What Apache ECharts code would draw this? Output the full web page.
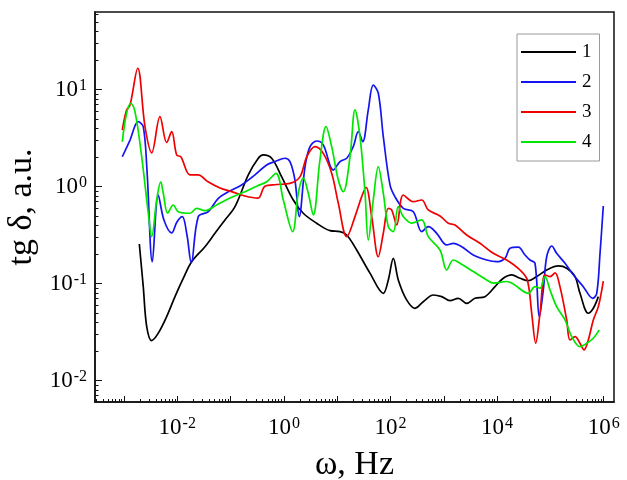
<!DOCTYPE html>
<html>
<head>
<meta charset="utf-8">
<script src="https://cdn.jsdelivr.net/npm/echarts@6/dist/echarts.min.js"></script>
<style>
  html, body { margin: 0; padding: 0; background: #fff; }
  #chart-container { width: 627px; height: 480px; }
</style>
</head>
<body>
<div id="chart-container"></div>
<script>
// curve 1 (black)
const freq1 = [0.00194, 0.0023, 0.00267, 0.00331, 0.0044, 0.00632, 0.00906, 0.013, 0.0186, 0.0331, 0.0509, 0.0785, 0.121, 0.215, 0.331, 0.41, 0.59, 0.91, 1.5, 2.31, 4.12, 7.33, 11.3, 15.1, 23.2, 41.2, 73.3, 91, 113, 140, 201, 288, 412, 635, 914, 1306, 1870, 2690, 3850, 5930, 9140, 13070, 18800, 26900, 38500, 55300, 85200, 141000, 202000, 290000, 359000, 514000, 638000, 793000];
const tan1 = [0.256, 0.0929, 0.036, 0.0258, 0.0308, 0.0456, 0.0733, 0.1135, 0.168, 0.24, 0.33, 0.453, 0.621, 1.32, 1.96, 2.12, 1.96, 1.26, 0.727, 0.531, 0.419, 0.351, 0.343, 0.317, 0.222, 0.128, 0.0794, 0.109, 0.182, 0.109, 0.0678, 0.0556, 0.065, 0.0762, 0.0733, 0.0667, 0.0705, 0.0626, 0.0705, 0.0733, 0.0929, 0.1135, 0.123, 0.1135, 0.107, 0.118, 0.138, 0.152, 0.144, 0.118, 0.0794, 0.0494, 0.0556, 0.0733];

// curve 2 (blue)
const freq2 = [0.00093, 0.0013, 0.00185, 0.0023, 0.0027, 0.0034, 0.0044, 0.00562, 0.00785, 0.00986, 0.0124, 0.0152, 0.0183, 0.0248, 0.0382, 0.0588, 0.0906, 0.161, 0.287, 0.475, 0.681, 1.05, 1.3, 1.61, 1.94, 2.49, 3.09, 4.12, 5.48, 8.45, 11.3, 15.1, 20, 24.9, 30.1, 38.3, 47.5, 59, 73.3, 97.9, 121, 174, 268, 385, 512, 736, 1133, 1507, 2170, 3575, 6380, 9820, 14060, 17460, 25000, 33400, 41400, 51400, 61900, 73600, 85200, 106000, 131000, 188000, 269000, 414000, 622000, 740000, 853000, 983000];
const tan2 = [2.03, 3.02, 4.67, 4.15, 1.48, 0.168, 0.819, 0.453, 0.333, 0.432, 0.49, 0.317, 0.164, 0.49, 0.551, 0.757, 0.885, 1.04, 1.32, 1.67, 1.81, 1.96, 1.81, 1.17, 0.49, 1.6, 2.58, 2.95, 2.69, 1.48, 1.81, 1.96, 2.58, 3.68, 2.9, 6.17, 11.1, 9.22, 3.27, 1.04, 0.787, 0.597, 0.551, 0.343, 0.386, 0.33, 0.25, 0.26, 0.24, 0.197, 0.175, 0.168, 0.182, 0.231, 0.237, 0.197, 0.175, 0.162, 0.0456, 0.0859, 0.189, 0.244, 0.205, 0.162, 0.123, 0.0929, 0.0705, 0.0794, 0.205, 0.631];

// curve 3 (red)
const freq3 = [0.00093, 0.00112, 0.0013, 0.00181, 0.00248, 0.00331, 0.00473, 0.00632, 0.00785, 0.00975, 0.01173, 0.0173, 0.0245, 0.0377, 0.0632, 0.105, 0.186, 0.327, 0.442, 0.733, 1.3, 2, 2.68, 3.83, 5.48, 7.88, 10.5, 15.1, 21.6, 28.8, 34.7, 44.4, 59, 73.3, 91, 105, 131, 174, 268, 385, 512, 849, 1216, 1622, 2690, 4780, 8490, 15100, 26900, 36900, 44600, 53000, 63800, 79200, 98300, 122000, 151000, 202000, 233000, 290000, 359000, 427000, 514000, 638000, 793000, 983000];
const tan3 = [3.83, 6.17, 6.93, 16.6, 4.15, 2.23, 5.26, 2.84, 3.68, 2.12, 2.02, 1.32, 1.32, 1.12, 0.968, 0.887, 0.8, 0.762, 1.01, 1.05, 1.08, 1.26, 2.03, 2.58, 2.2, 1.37, 0.673, 0.305, 0.49, 0.787, 0.984, 0.49, 0.189, 0.33, 0.597, 0.574, 0.402, 0.819, 0.698, 0.727, 0.574, 0.498, 0.419, 0.402, 0.317, 0.26, 0.205, 0.175, 0.138, 0.109, 0.0494, 0.0243, 0.0494, 0.123, 0.118, 0.129, 0.0929, 0.0422, 0.0262, 0.0284, 0.0242, 0.0207, 0.0262, 0.0422, 0.0578, 0.106];

// curve 4 (green)
const freq4 = [0.00093, 0.00112, 0.00135, 0.00161, 0.00215, 0.00286, 0.00331, 0.00411, 0.00489, 0.00546, 0.0066, 0.00841, 0.01045, 0.0173, 0.0231, 0.0331, 0.0588, 0.105, 0.186, 0.309, 0.475, 0.711, 0.975, 1.46, 1.86, 2.31, 2.87, 3.56, 4.75, 6.17, 7.88, 10.5, 13, 17.4, 21.6, 26.8, 33.3, 38.3, 47.5, 59, 73.3, 91, 113, 140, 174, 250, 385, 512, 849, 1133, 1507, 2010, 3575, 6380, 8490, 15100, 20100, 38500, 51400, 63800, 79200, 98300, 131000, 188000, 251000, 359000, 480000, 638000, 826000];
const tan4 = [2.9, 5.7, 7.23, 5.92, 2.03, 0.531, 0.305, 0.727, 1.12, 0.853, 0.531, 0.646, 0.551, 0.531, 0.597, 0.565, 0.662, 0.776, 0.885, 1.01, 1.12, 1.37, 0.727, 0.343, 0.853, 1.22, 0.853, 0.509, 1.88, 4.15, 2.58, 1.17, 0.885, 2.03, 6.17, 3.27, 0.853, 0.281, 0.727, 1.6, 0.853, 0.386, 0.343, 0.621, 0.49, 0.419, 0.453, 0.305, 0.222, 0.138, 0.175, 0.162, 0.133, 0.109, 0.101, 0.105, 0.099, 0.0794, 0.0929, 0.0895, 0.118, 0.0859, 0.0578, 0.0422, 0.0284, 0.0223, 0.0242, 0.0273, 0.0333];

const seriesNames = ["1", "2", "3", "4"];
const seriesColors = ["#000000", "#1414f0", "#f00000", "#00e600"];

// axis ranges and ticks
const xMin = 2.86e-4, xMax = 1.56e6;
const yMin = 0.00601, yMax = 63.1;
const xDecades = [1e-3, 1e-2, 1e-1, 1, 10, 100, 1e3, 1e4, 1e5, 1e6];
const xLabelValues = [1e-2, 1, 100, 1e4, 1e6];
const yDecades = [0.01, 0.1, 1, 10];

// 2..9 inside each decade
const minorOf = (lo, hi) => {
  const out = [];
  for (let e = Math.floor(Math.log10(lo)); e <= Math.ceil(Math.log10(hi)); e++) {
    for (let m = 2; m <= 9; m++) {
      const v = m * Math.pow(10, e);
      if (v > lo && v < hi) out.push(v);
    }
  }
  return out;
};

const serif = "Liberation Serif";
const powLabel = (v) => {
  const e = Math.round(Math.log10(v));
  return "{b|10}{s|" + e + "}";
};
const labelRich = {
  b: { fontFamily: serif, fontSize: 23, color: "#000" },
  s: { fontFamily: serif, fontSize: 16, color: "#000", verticalAlign: "top", padding: [0, 0, 8, 1] },
};

const toPairs = (xs, ys) => xs.map((x, i) => [x, ys[i]]);
const allData = [toPairs(freq1, tan1), toPairs(freq2, tan2), toPairs(freq3, tan3), toPairs(freq4, tan4)];

const chart = echarts.init(document.getElementById("chart-container"));

const option = {
  animation: false,
  backgroundColor: "#fff",
  grid: {
    left: 95, right: 13, top: 12, bottom: 78,
    show: true, borderColor: "#111", borderWidth: 1.5,
    outerBoundsMode: "none",
  },
  legend: {
    orient: "vertical",
    left: 517, top: 34,
    padding: [8, 8, 9, 4],
    itemGap: 10,
    itemWidth: 55, itemHeight: 2,
    icon: "rect",
    borderColor: "#999", borderWidth: 1,
    textStyle: { fontFamily: serif, fontSize: 19, lineHeight: 20, color: "#000", padding: [0, 0, 0, 1] },
    data: seriesNames,
  },
  xAxis: [
    {
      type: "log", min: xMin, max: xMax,
      position: "bottom",
      name: "ω, Hz", nameLocation: "middle", nameGap: 46,
      nameTextStyle: { fontFamily: serif, fontSize: 34, color: "#000" },
      axisLine: { show: true, lineStyle: { color: "#111", width: 1.5 } },
      axisTick: { inside: true, length: 6, customValues: xDecades, lineStyle: { color: "#111", width: 1 } },
      axisLabel: { customValues: xLabelValues, margin: 14, formatter: powLabel, rich: labelRich },
      splitLine: { show: false },
    },
    {
      type: "log", min: xMin, max: xMax,
      position: "bottom",
      axisLine: { show: false },
      axisTick: { inside: true, length: 3, customValues: minorOf(xMin, xMax), lineStyle: { color: "#111", width: 1 } },
      axisLabel: { show: false },
      splitLine: { show: false },
    },
  ],
  yAxis: [
    {
      type: "log", min: yMin, max: yMax,
      position: "left",
      name: "tg δ, a.u.", nameLocation: "middle", nameGap: 49,
      nameTextStyle: { fontFamily: serif, fontSize: 34, color: "#000" },
      axisLine: { show: true, lineStyle: { color: "#111", width: 1.5 } },
      axisTick: { inside: true, length: 7, customValues: yDecades, lineStyle: { color: "#111", width: 1 } },
      axisLabel: { customValues: yDecades, margin: 8, formatter: powLabel, rich: labelRich },
      splitLine: { show: false },
    },
    {
      type: "log", min: yMin, max: yMax,
      position: "left",
      axisLine: { show: false },
      axisTick: { inside: true, length: 3.5, customValues: minorOf(yMin, yMax), lineStyle: { color: "#111", width: 1 } },
      axisLabel: { show: false },
      splitLine: { show: false },
    },
  ],
  series: allData.map((d, i) => ({
    name: seriesNames[i],
    type: "line",
    xAxisIndex: 0,
    yAxisIndex: 0,
    data: d,
    smooth: 0.35,
    showSymbol: false,
    color: seriesColors[i],
    lineStyle: { width: 1.7, color: seriesColors[i] },
  })),
};

chart.setOption(option);
</script>
</body>
</html>
